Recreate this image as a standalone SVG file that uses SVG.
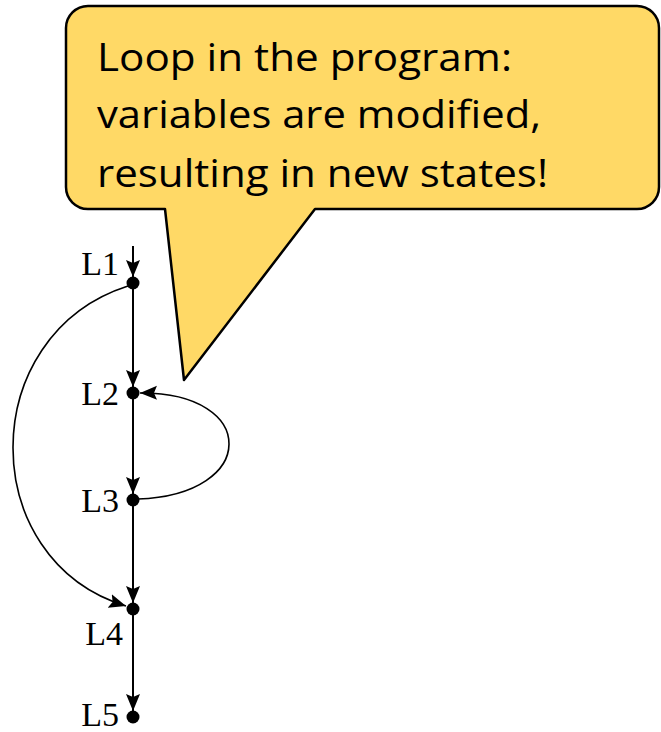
<svg xmlns="http://www.w3.org/2000/svg" width="661" height="732" viewBox="0 0 661 732">
<style>
.bubble{fill:#FFD966;stroke:#000;stroke-width:2.5;stroke-linejoin:round}
.btxt{font-family:"Open Sans","Noto Sans",sans-serif;font-size:39px;fill:#000}
.lbl{font-family:"Liberation Serif","DejaVu Serif",serif;font-size:34px;fill:#000;text-anchor:end}
.dot{fill:#000}
.edge{fill:none;stroke:#000;stroke-width:2;marker-end:url(#ah)}
.curve{fill:none;stroke:#000;stroke-width:1.6;marker-end:url(#ah)}
</style>
<defs>
<marker id="ah" markerUnits="userSpaceOnUse" markerWidth="18" markerHeight="16" viewBox="0 0 18 16" refX="17" refY="8" orient="auto">
<path d="M0,1 L17,8 L0,15 L3,8 Z" fill="#000"/>
</marker>
</defs>
<g id="callout">
<path class="bubble" d="M88,6 H637 A22,22 0 0 1 659,28 V187 A22,22 0 0 1 637,209 H315 L184,380 L165,209 H88 A22,22 0 0 1 66,187 V28 A22,22 0 0 1 88,6 Z"/>
<text class="btxt" x="97" y="71" textLength="415" lengthAdjust="spacingAndGlyphs">Loop in the program:</text>
<text class="btxt" x="97" y="128" textLength="444" lengthAdjust="spacingAndGlyphs">variables are modified,</text>
<text class="btxt" x="97" y="187" textLength="451" lengthAdjust="spacingAndGlyphs">resulting in new states!</text>
</g>
<g id="connectors">
<path class="edge" d="M133,246 V277"/>
<path class="edge" d="M133,283 V387"/>
<path class="edge" d="M133,393 V494"/>
<path class="edge" d="M133,500 V603"/>
<path class="edge" d="M133,609 V711"/>
<path class="curve" d="M128,286 C-25,335 -25,560 126,606"/>
<path class="curve" d="M138,499 C259,495 259,392 140,393"/>
</g>
<g id="L1"><circle class="dot" cx="133" cy="283" r="6.5"/><text class="lbl" x="119" y="275">L1</text></g>
<g id="L2"><circle class="dot" cx="133" cy="393" r="6.5"/><text class="lbl" x="119" y="405">L2</text></g>
<g id="L3"><circle class="dot" cx="133" cy="500" r="6.5"/><text class="lbl" x="119" y="512">L3</text></g>
<g id="L4"><circle class="dot" cx="133" cy="609" r="6.5"/><text class="lbl" x="123" y="645">L4</text></g>
<g id="L5"><circle class="dot" cx="133" cy="717" r="6.5"/><text class="lbl" x="119" y="726">L5</text></g>
</svg>
